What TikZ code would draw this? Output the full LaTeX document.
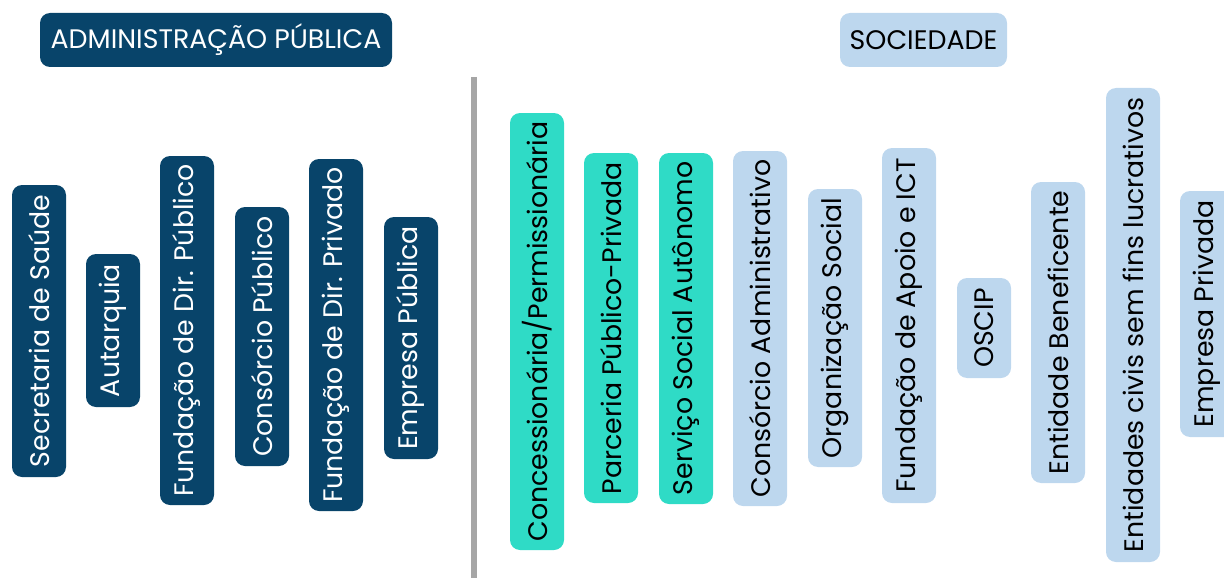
\documentclass[tikz,border=0pt]{standalone}
\usepackage{fontspec}
\setmainfont{Poppins}
\definecolor{navy}{HTML}{08446A}
\definecolor{teal}{HTML}{2FDBC6}
\definecolor{sky}{HTML}{BDD7EE}
\definecolor{rule}{HTML}{A6A6A6}
\tikzset{
  bar/.style={rounded corners=10pt, inner sep=0pt, font=\fontsize{26.8}{30}\selectfont},
  adm/.style={bar, fill=navy, text=white},
  conc/.style={bar, fill=teal, text=black},
  soc/.style={bar, fill=sky, text=black},
  vbar/.style={rotate=90, minimum height=54pt},
}
% place a vertical bar from its left edge, top and bottom (pixel units)
\newcommand{\uprightbar}[6]{%
  \pgfmathsetmacro{\cx}{#2+27}\pgfmathsetmacro{\cy}{(#3+#4)/2}\pgfmathsetmacro{\len}{#4-#3}%
  \node[#5, vbar, minimum width=\len pt] (#1) at (\cx,\cy) {#6};}
\begin{document}
\begin{tikzpicture}[x=1pt,y=-1pt]
\useasboundingbox (0,0) rectangle (1224,578);
% headings
\node[adm, minimum width=352pt, minimum height=54pt] (admhead) at (216,40) {ADMINISTRAÇÃO PÚBLICA};
\node[soc, minimum width=167pt, minimum height=54pt] (sochead) at (923.5,40) {SOCIEDADE};
% divider
\coordinate (divtop) at (473.5,77);
\coordinate (divbot) at (473.5,578);
\draw[rule, line width=6pt] (divtop) -- (divbot);
% public administration
\uprightbar{a1}{12}{185}{477}{adm}{Secretaria de Saúde}
\uprightbar{a2}{86}{254}{407}{adm}{Autarquia}
\uprightbar{a3}{160}{156}{505}{adm}{Fundação de Dir. Público}
\uprightbar{a4}{235}{207}{466}{adm}{Consórcio Público}
\uprightbar{a5}{309}{159}{511}{adm}{Fundação de Dir. Privado}
\uprightbar{a6}{384}{217}{459}{adm}{Empresa Pública}
% society
\uprightbar{s1}{510}{113}{550}{conc}{Concessionária/Permissionária}
\uprightbar{s2}{584}{153}{503}{conc}{Parceria Público-Privada}
\uprightbar{s3}{659}{153}{504}{conc}{Serviço Social Autônomo}
\uprightbar{s4}{733}{151}{506}{soc}{Consórcio Administrativo}
\uprightbar{s5}{808}{189}{467}{soc}{Organização Social}
\uprightbar{s6}{882}{148}{503}{soc}{Fundação de Apoio e ICT}
\uprightbar{s7}{957}{278}{378}{soc}{OSCIP}
\uprightbar{s8}{1031}{182}{483}{soc}{Entidade Beneficente}
\uprightbar{s9}{1106}{88}{562}{soc}{Entidades civis sem fins lucrativos}
\uprightbar{s10}{1180}{191}{437}{soc}{Empresa Privada}
\end{tikzpicture}
\end{document}
